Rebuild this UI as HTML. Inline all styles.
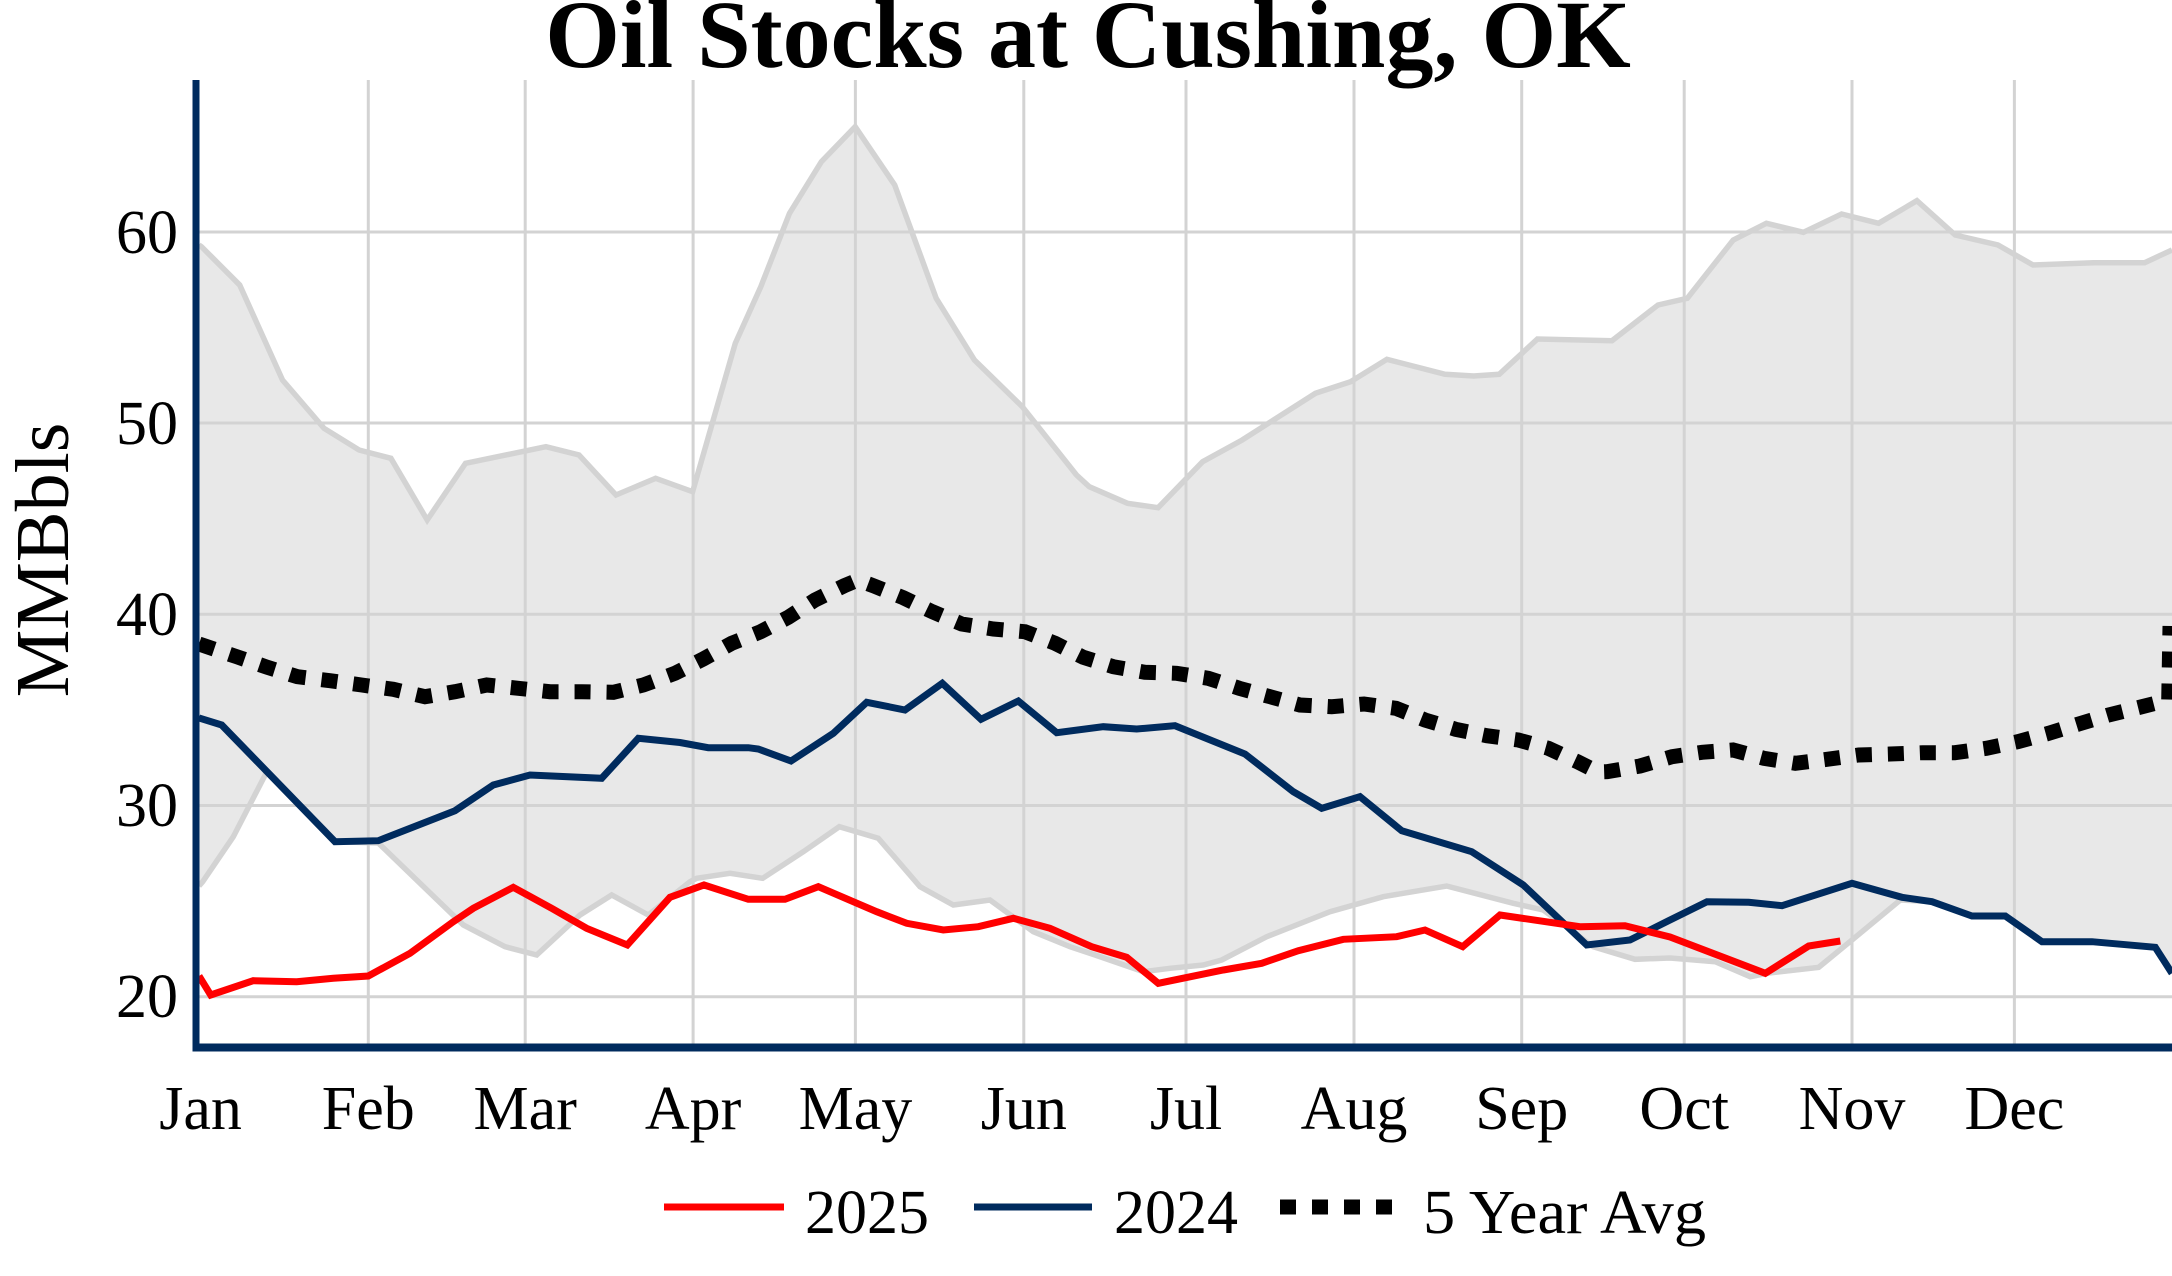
<!DOCTYPE html>
<html><head><meta charset="utf-8"><style>
html,body{margin:0;padding:0;background:#fff;}
svg{display:block;}
text{font-family:"Liberation Serif","Times New Roman",serif;fill:#000;}
</style></head><body>
<svg width="2172" height="1276" viewBox="0 0 2172 1276" xmlns="http://www.w3.org/2000/svg">
<defs><clipPath id="pc"><rect x="199" y="80" width="1973" height="966"/></clipPath></defs>
<rect x="0" y="0" width="2172" height="1276" fill="#fff"/>
<g clip-path="url(#pc)">
<!-- envelope fill -->
<polygon fill="#e8e8e8" points="199,245 201.5,246.7 239.7,285 282.5,380 324,428.3 359,450 390.9,458.3 427.2,520 465.5,463.3 545.9,446.7 579,455 616,495 655.6,478.3 692.6,491.7 735.3,343.3 760.8,286.7 789.5,213.3 821.4,161.7 855.2,126.7 894.7,185 936.2,298.3 974.4,360 1022.3,406.7 1076.5,475 1089.2,486.7 1127.5,503.3 1158.1,507.7 1202.6,461.7 1242.2,440 1315.5,393.3 1350.6,381.7 1386.9,359.3 1445,374.3 1473.7,376 1499.2,374.3 1537.4,339 1612,340.7 1658,305 1687.3,298.3 1733.2,240 1766.4,223.3 1803.4,232.3 1841.6,214 1878.6,223.3 1916.9,200.7 1955.2,235 1997.9,245 2033,265 2093.6,262.7 2144.6,262.7 2172,250 2172,973.3 2155.3,947.3 2092,941.7 2042,941.7 2005.3,916 1972,916 1932,901.7 1900.3,900 1852,940 1818.7,967.3 1767,973.3 1750.3,976.7 1715.3,961.7 1670,958 1635,959.3 1593.3,946.7 1543.3,910 1513.3,903.3 1446.7,886 1383.3,896.7 1330,911.7 1266.7,936.7 1221.7,960 1203.3,965 1170,968.3 1143.3,971.7 1095,955 1070,946.7 1033.3,931.7 990,900 953.3,905 920,886.7 878.3,838.3 839.3,826.7 803.3,851.7 762.7,878.3 730,873.3 696.7,878.3 690,881.7 648.3,915 611.7,895 580,915 536.7,955 505,946.7 463.3,925 378.3,843 335,841.7 266.7,772 233.3,836.7 202.7,881.7 199,886"/>
<!-- gridlines -->
<g stroke="#d3d3d3" stroke-width="3" fill="none">
<line x1="199" y1="232" x2="2172" y2="232"/>
<line x1="199" y1="423" x2="2172" y2="423"/>
<line x1="199" y1="614.3" x2="2172" y2="614.3"/>
<line x1="199" y1="805.5" x2="2172" y2="805.5"/>
<line x1="199" y1="996.7" x2="2172" y2="996.7"/>
<line x1="368.3" y1="80" x2="368.3" y2="1047"/>
<line x1="525.2" y1="80" x2="525.2" y2="1047"/>
<line x1="693.1" y1="80" x2="693.1" y2="1047"/>
<line x1="855.4" y1="80" x2="855.4" y2="1047"/>
<line x1="1023.8" y1="80" x2="1023.8" y2="1047"/>
<line x1="1186" y1="80" x2="1186" y2="1047"/>
<line x1="1354" y1="80" x2="1354" y2="1047"/>
<line x1="1521.7" y1="80" x2="1521.7" y2="1047"/>
<line x1="1684.2" y1="80" x2="1684.2" y2="1047"/>
<line x1="1852" y1="80" x2="1852" y2="1047"/>
<line x1="2014.4" y1="80" x2="2014.4" y2="1047"/>
</g>
<!-- envelope lines -->
<g stroke="#d3d3d3" stroke-width="5.5" fill="none" stroke-linejoin="miter">
<polyline points="199,245 201.5,246.7 239.7,285 282.5,380 324,428.3 359,450 390.9,458.3 427.2,520 465.5,463.3 545.9,446.7 579,455 616,495 655.6,478.3 692.6,491.7 735.3,343.3 760.8,286.7 789.5,213.3 821.4,161.7 855.2,126.7 894.7,185 936.2,298.3 974.4,360 1022.3,406.7 1076.5,475 1089.2,486.7 1127.5,503.3 1158.1,507.7 1202.6,461.7 1242.2,440 1315.5,393.3 1350.6,381.7 1386.9,359.3 1445,374.3 1473.7,376 1499.2,374.3 1537.4,339 1612,340.7 1658,305 1687.3,298.3 1733.2,240 1766.4,223.3 1803.4,232.3 1841.6,214 1878.6,223.3 1916.9,200.7 1955.2,235 1997.9,245 2033,265 2093.6,262.7 2144.6,262.7 2172,250"/>
<polyline points="199,886 202.7,881.7 233.3,836.7 266.7,772 335,841.7 378.3,843 463.3,925 505,946.7 536.7,955 580,915 611.7,895 648.3,915 690,881.7 696.7,878.3 730,873.3 762.7,878.3 803.3,851.7 839.3,826.7 878.3,838.3 920,886.7 953.3,905 990,900 1033.3,931.7 1070,946.7 1095,955 1143.3,971.7 1170,968.3 1203.3,965 1221.7,960 1266.7,936.7 1330,911.7 1383.3,896.7 1446.7,886 1513.3,903.3 1543.3,910 1593.3,946.7 1635,959.3 1670,958 1715.3,961.7 1750.3,976.7 1767,973.3 1818.7,967.3 1852,940 1900.3,900 1932,901.7 1972,916 2005.3,916 2042,941.7 2092,941.7 2155.3,947.3 2172,973.3"/>
</g>
<!-- 5 year avg -->
<polyline fill="none" stroke="#000" stroke-width="15" stroke-dasharray="16 16" stroke-linejoin="miter" points="199,644 205,646 236.7,656.7 267.3,667.3 297.3,676.7 330,680.7 361.7,685 393.3,689.3 425,696.7 455,691.7 486.7,685 518.3,688.3 550,691.7 581.7,691.7 613.3,692.3 643.3,685 675,673.3 703.3,659 731.7,643.3 760.7,631.7 788.3,617.3 815,600 844.3,585.7 858,580 874,586 903.3,597.7 932.3,611.7 961.7,624 993.3,629 1025,631.7 1055,643.3 1083.3,657.3 1113.3,666.7 1145,672.3 1176.7,673.3 1208.3,678.3 1239.3,688.3 1270,696.7 1300,705 1331.7,706.7 1364,704 1396,708.3 1425,720 1455.7,729.3 1486.7,735.7 1518.3,740 1548.3,748.3 1577.3,761.7 1598,772 1607.3,771.7 1640,766 1672,756.7 1702,752.3 1733,750 1763.7,758.3 1795.3,763.3 1827,759.3 1858.7,755 1890.3,754 1922.7,752.7 1954.7,752.7 1986.3,748.3 2017.7,741.7 2048.7,733.3 2078.7,724 2108.7,715 2142,706.7 2168.7,700 2170,626"/>
<!-- 2024 -->
<polyline fill="none" stroke="#002b5e" stroke-width="7" stroke-linejoin="miter" points="199,718 221.7,725 335,841.7 378.3,840.7 455,810.7 493.3,785 530,775 601.7,778.3 638.3,738.3 680,742.5 708.3,747.7 748.3,747.7 758.3,749 791,761 833.3,733.3 866.7,702.3 905,710 942.3,683.3 981,719.3 1018.3,701 1056.7,732.7 1103.3,726.7 1136.7,729 1175,725.7 1245,754 1293.3,791.7 1321.7,808.3 1360,796.7 1401.7,830.7 1471.7,851.7 1523.3,885 1586.7,945 1630,940 1668,921 1707,901.7 1748.7,902.3 1782,905.7 1852,883.3 1902,897.3 1932,901.7 1972,916 2005.3,916 2042,941.7 2092,941.7 2155.3,947.3 2172,973.3"/>
<!-- 2025 -->
<polyline fill="none" stroke="#ff0000" stroke-width="7" stroke-linejoin="miter" points="199,976 210.7,995 253.3,980.7 296.7,981.7 333.3,978.3 368.3,976 410,953.3 453.3,921.7 473.3,908.3 513.3,887.3 551.7,908.3 586.7,928.3 627.3,945 670,897.3 704,885 748.3,899.3 785,899.3 818.3,886.7 876.7,911.7 906.7,923.3 943.3,930 978.3,926.7 1013.3,918.3 1050,928.3 1091.7,946.7 1126.7,957.3 1158.3,983.3 1223.3,970 1261.7,963.3 1298.3,950.7 1343.3,939.3 1396.7,936.7 1425,930 1462.7,946.7 1500,915 1580,926.7 1625,925.7 1670,937 1765.3,973.3 1808.7,946 1840.3,941"/>
</g>
<!-- axes -->
<line x1="196" y1="80" x2="196" y2="1051" stroke="#002b5e" stroke-width="7"/>
<line x1="192.5" y1="1047.5" x2="2172" y2="1047.5" stroke="#002b5e" stroke-width="8"/>
<!-- title -->
<text x="1088" y="67" font-size="96" font-weight="bold" text-anchor="middle">Oil Stocks at Cushing, OK</text>
<!-- y ticks -->
<g font-size="62" text-anchor="end">
<text x="178" y="253">60</text>
<text x="178" y="444">50</text>
<text x="178" y="635">40</text>
<text x="178" y="826">30</text>
<text x="178" y="1017">20</text>
</g>
<text transform="translate(68,560) rotate(-90)" font-size="76" text-anchor="middle">MMBbls</text>
<!-- x ticks -->
<g font-size="62" text-anchor="middle">
<text x="200.6" y="1129">Jan</text>
<text x="368.3" y="1129">Feb</text>
<text x="525.2" y="1129">Mar</text>
<text x="693.1" y="1129">Apr</text>
<text x="855.4" y="1129">May</text>
<text x="1023.8" y="1129">Jun</text>
<text x="1186" y="1129">Jul</text>
<text x="1354" y="1129">Aug</text>
<text x="1521.7" y="1129">Sep</text>
<text x="1684.2" y="1129">Oct</text>
<text x="1852" y="1129">Nov</text>
<text x="2014.4" y="1129">Dec</text>
</g>
<!-- legend -->
<line x1="664" y1="1207" x2="784" y2="1207" stroke="#ff0000" stroke-width="7"/>
<text x="805" y="1233" font-size="62">2025</text>
<line x1="974" y1="1207" x2="1092" y2="1207" stroke="#002b5e" stroke-width="7"/>
<text x="1114" y="1233" font-size="62">2024</text>
<line x1="1280" y1="1207" x2="1394" y2="1207" stroke="#000" stroke-width="15" stroke-dasharray="16 16"/>
<text x="1423" y="1233" font-size="62" textLength="283" lengthAdjust="spacingAndGlyphs">5 Year Avg</text>
</svg>
</body></html>
